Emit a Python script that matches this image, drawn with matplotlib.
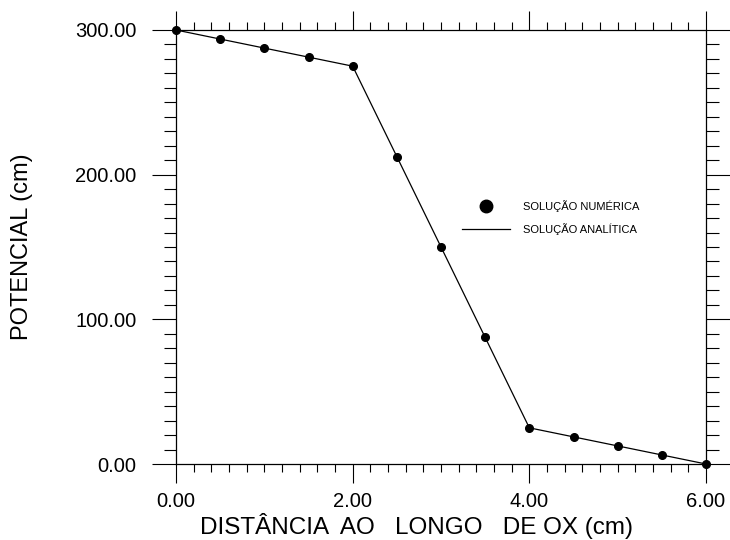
import matplotlib
matplotlib.use("Agg")
import matplotlib.pyplot as plt
from matplotlib.lines import Line2D
from matplotlib.ticker import MultipleLocator, FormatStrFormatter

plt.rcParams['font.family'] = ['Liberation Sans', 'DejaVu Sans']

# Data
x_dist = [0.0, 0.5, 1.0, 1.5, 2.0, 2.5, 3.0, 3.5, 4.0, 4.5, 5.0, 5.5, 6.0]
y_numeric = [300.0, 293.75, 287.5, 281.25, 275.0, 212.5, 150.0, 87.5, 25.0, 18.75, 12.5, 6.25, 0.0]
x_analytic = [0.0, 2.0, 4.0, 6.0]
y_analytic = [300.0, 275.0, 25.0, 0.0]

label_numeric = "SOLUÇÃO NUMÉRICA"
label_analytic = "SOLUÇÃO ANALÍTICA"
xlabel = "DISTÂNCIA  AO   LONGO   DE OX (cm)"
ylabel = "POTENCIAL (cm)"

fig = plt.figure(figsize=(7.3, 5.4), dpi=100)
ax = fig.add_axes([176/730, 1-464/540, 530/730, 434/540])

ax.plot(x_analytic, y_analytic, color='black', lw=0.9, zorder=2)
ax.plot(x_dist, y_numeric, linestyle='none', marker='o', ms=5.5,
        color='black', zorder=3, clip_on=False)

ax.set_xlim(0, 6)
ax.set_ylim(0, 300)

ax.xaxis.set_major_locator(MultipleLocator(2))
ax.xaxis.set_minor_locator(MultipleLocator(0.2))
ax.yaxis.set_major_locator(MultipleLocator(100))
ax.yaxis.set_minor_locator(MultipleLocator(10))
ax.xaxis.set_major_formatter(FormatStrFormatter('%.2f'))
ax.yaxis.set_major_formatter(FormatStrFormatter('%.2f'))

for s in ax.spines.values():
    s.set_linewidth(0.9)

ax.tick_params(axis='x', which='major', direction='out', length=13.5, width=0.8,
               top=True, bottom=True, labelsize=14.5, pad=7)
ax.tick_params(axis='x', which='minor', direction='out', length=5.5, width=0.8,
               top=True, bottom=True)
ax.tick_params(axis='y', which='major', direction='out', length=17, width=0.8,
               left=True, right=True, labelsize=14.5, pad=11.5)
ax.tick_params(axis='y', which='minor', direction='out', length=9, width=0.8,
               left=True, right=True)

ax.set_xlabel(xlabel, fontsize=17.5, va='top')
ax.xaxis.set_label_coords(0.453, -0.112)
ax.set_ylabel(ylabel, fontsize=17, va='center')
ax.yaxis.set_label_coords(-0.29, 0.5)

handles = [
    Line2D([], [], linestyle='none', marker='o', ms=9, color='black'),
    Line2D([], [], color='black', lw=0.9),
]
ax.legend(handles, [label_numeric, label_analytic], loc='upper left',
          bbox_to_anchor=((462-176)/530, (464-200)/434), frameon=False,
          fontsize=8, handlelength=4.3, handletextpad=1.2, labelspacing=1.0,
          borderpad=0, borderaxespad=0)

fig.savefig("out.png", dpi=100)
